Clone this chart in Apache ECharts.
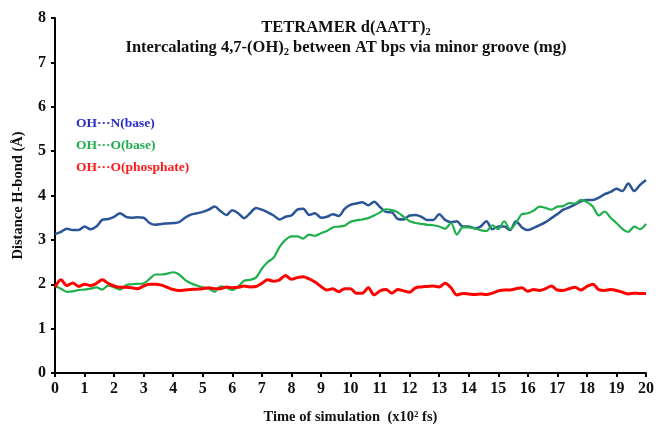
<!DOCTYPE html>
<html>
<head>
<meta charset="utf-8">
<script src="https://cdn.jsdelivr.net/npm/echarts@6/dist/echarts.min.js"></script>
<style>
  html, body { margin: 0; padding: 0; background: #fff; }
  #chart { width: 656px; height: 426px; }
</style>
</head>
<body>
<div id="chart"></div>
<script>
// sample times (x10^2 fs)
const times = [
  0, 0.2, 0.4, 0.6, 0.8, 1, 1.2, 1.4, 1.6, 1.8, 2, 2.2, 2.4, 2.6, 2.8, 3, 3.2, 3.4, 3.6, 3.8,
  4, 4.2, 4.4, 4.6, 4.8, 5, 5.2, 5.4, 5.6, 5.8, 6, 6.2, 6.4, 6.6, 6.8, 7, 7.2, 7.4, 7.6, 7.8,
  8, 8.2, 8.4, 8.6, 8.8, 9, 9.2, 9.4, 9.6, 9.8, 10, 10.2, 10.4, 10.6, 10.8, 11, 11.2, 11.4, 11.6, 11.8,
  12, 12.2, 12.4, 12.6, 12.8, 13, 13.2, 13.4, 13.6, 13.8, 14, 14.2, 14.4, 14.6, 14.8, 15, 15.2, 15.4, 15.6, 15.8,
  16, 16.2, 16.4, 16.6, 16.8, 17, 17.2, 17.4, 17.6, 17.8, 18, 18.2, 18.4, 18.6, 18.8, 19, 19.2, 19.4, 19.6, 19.8, 20
]

// OH…N(base)
const ohNBase = [
  3.13, 3.18, 3.25, 3.22, 3.22, 3.30, 3.24, 3.30, 3.45, 3.47, 3.52, 3.60, 3.52, 3.50, 3.51, 3.50, 3.38, 3.34, 3.36, 3.37,
  3.38, 3.40, 3.50, 3.57, 3.60, 3.63, 3.68, 3.75, 3.65, 3.56, 3.67, 3.60, 3.49, 3.60, 3.72, 3.68, 3.62, 3.55, 3.46, 3.52,
  3.55, 3.68, 3.70, 3.56, 3.60, 3.50, 3.52, 3.58, 3.54, 3.70, 3.79, 3.82, 3.85, 3.78, 3.86, 3.74, 3.63, 3.62, 3.47, 3.46,
  3.55, 3.56, 3.52, 3.45, 3.45, 3.58, 3.45, 3.40, 3.42, 3.30, 3.30, 3.26, 3.30, 3.42, 3.24, 3.30, 3.30, 3.22, 3.42, 3.28,
  3.22, 3.27, 3.33, 3.40, 3.49, 3.58, 3.68, 3.73, 3.80, 3.87, 3.90, 3.90, 3.95, 4.03, 4.08, 4.15, 4.10, 4.27, 4.10, 4.24, 4.35
]

// OH…O(base)
const ohOBase = [
  1.96, 1.90, 1.83, 1.84, 1.87, 1.88, 1.90, 1.93, 1.88, 1.97, 1.93, 1.88, 1.98, 2.00, 2.01, 2.02, 2.12, 2.22, 2.22, 2.24,
  2.27, 2.22, 2.10, 2.02, 1.97, 1.93, 1.90, 1.83, 1.95, 1.92, 1.87, 1.95, 2.08, 2.10, 2.15, 2.35, 2.50, 2.60, 2.84, 3.00,
  3.08, 3.08, 3.03, 3.12, 3.09, 3.15, 3.20, 3.28, 3.30, 3.32, 3.41, 3.44, 3.46, 3.49, 3.55, 3.62, 3.69, 3.67, 3.62, 3.52,
  3.42, 3.38, 3.36, 3.34, 3.33, 3.30, 3.25, 3.38, 3.12, 3.28, 3.28, 3.26, 3.22, 3.20, 3.33, 3.24, 3.42, 3.24, 3.38, 3.58,
  3.60, 3.66, 3.75, 3.72, 3.68, 3.75, 3.76, 3.83, 3.82, 3.90, 3.85, 3.75, 3.55, 3.64, 3.50, 3.38, 3.25, 3.18, 3.30, 3.24, 3.36
]

// OH…O(phosphate)
const ohOPhosphate = [
  1.93, 2.10, 1.97, 2.03, 1.95, 2.00, 1.97, 2.02, 2.10, 2.02, 1.96, 1.93, 1.93, 1.92, 1.90, 1.96, 2.00, 2.00, 1.98, 1.93,
  1.88, 1.86, 1.87, 1.88, 1.89, 1.90, 1.92, 1.90, 1.90, 1.94, 1.92, 1.93, 1.96, 1.94, 1.95, 2.02, 2.10, 2.07, 2.10, 2.20,
  2.11, 2.15, 2.17, 2.12, 2.05, 1.95, 1.87, 1.90, 1.83, 1.90, 1.90, 1.80, 1.80, 1.92, 1.76, 1.85, 1.88, 1.80, 1.88, 1.85,
  1.82, 1.92, 1.94, 1.95, 1.96, 1.94, 2.02, 1.92, 1.76, 1.79, 1.78, 1.77, 1.78, 1.77, 1.80, 1.85, 1.87, 1.87, 1.90, 1.92,
  1.84, 1.88, 1.86, 1.90, 1.96, 1.87, 1.86, 1.90, 1.93, 1.87, 1.95, 2.00, 1.88, 1.86, 1.88, 1.86, 1.82, 1.78, 1.80, 1.79, 1.79
]

const seriesNames = ['OH···N(base)', 'OH···O(base)', 'OH···O(phosphate)']
const lineColors = ['#2a5596', '#1fb04c', '#ff0000']
const labelColors = ['#2b2bcc', '#1fae4e', '#ff1a1a']

const font = '"Liberation Serif", "DejaVu Serif", serif'

const toPairs = (vals) => vals.map((v, i) => [times[i], v])

const chart = echarts.init(document.getElementById('chart'))

const option = {
  animation: false,
  title: {
    text: 'TETRAMER d(AATT){sub|2}\nIntercalating 4,7-(OH){sub|2} between AT bps via minor groove (mg)',
    left: 341,
    top: 13,
    textAlign: 'center',
    textStyle: {
      fontFamily: font,
      fontSize: 16.5,
      fontWeight: 'bold',
      color: '#111',
      lineHeight: 20,
      rich: {
        sub: { fontFamily: font, fontSize: 10.5, fontWeight: 'bold', color: '#111', verticalAlign: 'bottom', padding: [8, 0, 0, 0] },
      },
    },
  },
  legend: {
    orient: 'vertical',
    left: 66,
    top: 112,
    icon: 'none',
    itemWidth: 0,
    itemHeight: 10,
    itemGap: 8,
    selectedMode: false,
    data: seriesNames.map((n, i) => ({
      name: n,
      textStyle: { color: labelColors[i], fontFamily: font, fontSize: 13.5, fontWeight: 'bold' },
    })),
  },
  grid: {
    left: 55,
    right: 10,
    top: 18,
    bottom: 53,
    outerBoundsMode: 'none',
  },
  xAxis: {
    type: 'value',
    min: 0,
    max: 20,
    interval: 1,
    name: 'Time of simulation  (x10{sup|2} fs)',
    nameLocation: 'middle',
    nameGap: 37,
    nameTextStyle: {
      fontFamily: font,
      fontSize: 14.5,
      fontWeight: 'bold',
      color: '#111',
      rich: {
        sup: { fontFamily: font, fontSize: 9, fontWeight: 'bold', color: '#111', verticalAlign: 'top', padding: [0, 0, 6, 0] },
      },
    },
    axisLine: { show: true, lineStyle: { color: '#000', width: 2 } },
    axisTick: { show: true, length: 4, lineStyle: { color: '#000', width: 2 } },
    axisLabel: { fontFamily: font, fontSize: 16, fontWeight: 'bold', color: '#111', margin: 8 },
    splitLine: { show: false },
  },
  yAxis: {
    type: 'value',
    min: 0,
    max: 8,
    interval: 1,
    name: 'Distance H-bond (Å)',
    nameLocation: 'middle',
    nameGap: 29,
    nameTextStyle: { fontFamily: font, fontSize: 14.5, fontWeight: 'bold', color: '#111' },
    axisLine: { show: true, lineStyle: { color: '#000', width: 2 } },
    axisTick: { show: true, length: 4, lineStyle: { color: '#000', width: 2 } },
    axisLabel: { fontFamily: font, fontSize: 16, fontWeight: 'bold', color: '#111', margin: 9 },
    splitLine: { show: false },
  },
  series: [
    {
      name: seriesNames[0],
      type: 'line',
      data: toPairs(ohNBase),
      showSymbol: false,
      smooth: 0.3,
      lineStyle: { color: lineColors[0], width: 2.5 },
      itemStyle: { color: lineColors[0] },
    },
    {
      name: seriesNames[1],
      type: 'line',
      data: toPairs(ohOBase),
      showSymbol: false,
      smooth: 0.3,
      lineStyle: { color: lineColors[1], width: 2.2 },
      itemStyle: { color: lineColors[1] },
    },
    {
      name: seriesNames[2],
      type: 'line',
      data: toPairs(ohOPhosphate),
      showSymbol: false,
      smooth: 0.3,
      lineStyle: { color: lineColors[2], width: 3 },
      itemStyle: { color: lineColors[2] },
    },
  ],
}

chart.setOption(option)
</script>
</body>
</html>
